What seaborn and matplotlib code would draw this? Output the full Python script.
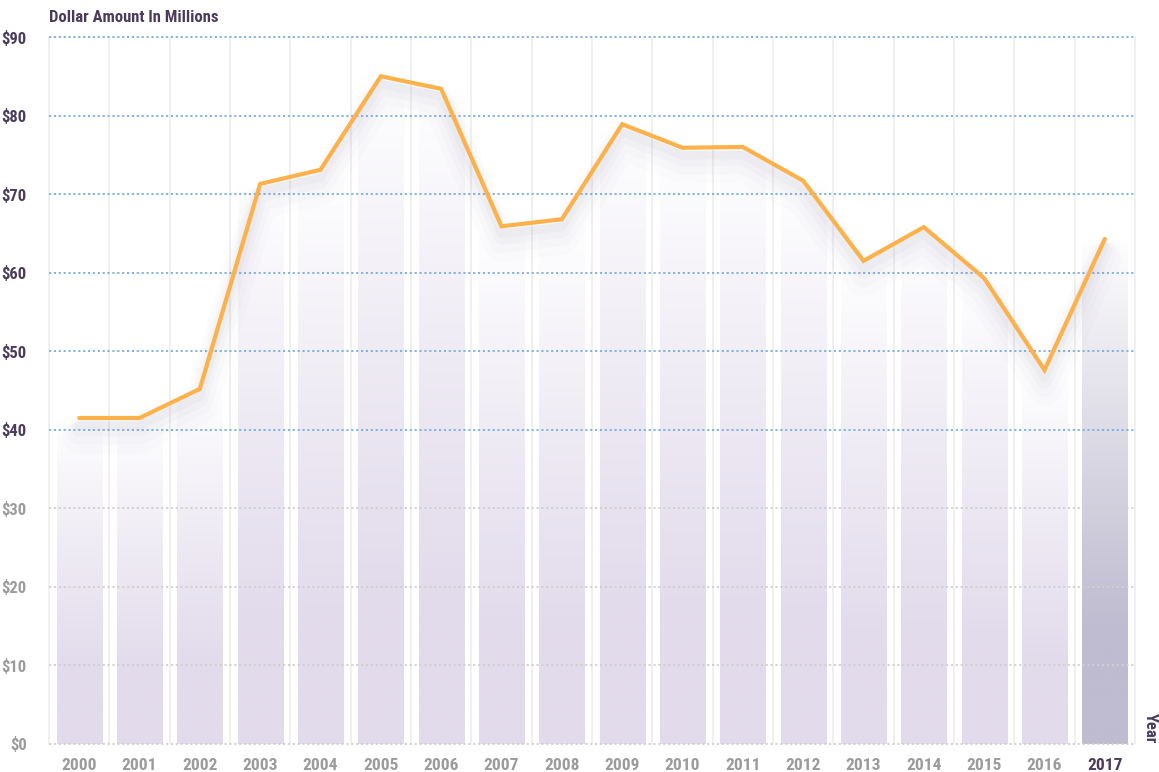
import numpy as np
import pandas as pd
import matplotlib
matplotlib.use("Agg")
import matplotlib.pyplot as plt
import seaborn as sns
from matplotlib import font_manager

years = ["2000", "2001", "2002", "2003", "2004", "2005", "2006", "2007", "2008",
         "2009", "2010", "2011", "2012", "2013", "2014", "2015", "2016", "2017"]
amounts = [41.5, 41.5, 45.2, 71.3, 73.1, 85.0, 83.4, 65.9, 66.8,
           78.9, 75.9, 76.0, 71.7, 61.5, 65.8, 59.3, 47.6, 64.3]
ytick_vals = [0, 10, 20, 30, 40, 50, 60, 70, 80, 90]
ytick_labels = ["$0", "$10", "$20", "$30", "$40", "$50", "$60", "$70", "$80", "$90"]
title_text = "Dollar Amount In Millions"
xlabel_text = "Year"

sns.set_theme(style="white")
avail = {f.name for f in font_manager.fontManager.ttflist}
fam = [f for f in ["Liberation Sans Narrow", "Roboto Condensed", "Liberation Sans"] if f in avail] + ["DejaVu Sans"]
plt.rcParams["font.family"] = fam

PURPLE = "#4a3b5c"
GRAY = "#9b9b9b"
ORANGE = "#fdb14b"
BLUE = "#7aaee0"

fig = plt.figure(figsize=(11.59, 7.72), dpi=100)
ax = fig.add_axes([49 / 1159, 1 - 744 / 772, (1135 - 49) / 1159, (744 - 37) / 772])

df = pd.DataFrame({"year": years, "amount": amounts})
sns.barplot(data=df, x="year", y="amount", ax=ax, width=0.75, color="white",
            edgecolor="none", zorder=2)
ax.set_xlim(-0.5, len(years) - 0.5)
ax.set_ylim(0, 90)

# gradient fill for each bar
n = 256
t = np.linspace(0, 1, n)[:, None]  # 0 bottom -> 1 top
for i, p in enumerate(ax.patches):
    base = np.array(matplotlib.colors.to_rgb("#bfbbd0" if i == len(years) - 1 else "#e2dbec"))
    w = np.clip(1 - t, 0, 1) ** 0.9
    w = np.clip(w * 1.25, 0, 1)
    rgb = base[None, :] * w + np.ones(3)[None, :] * (1 - w)
    img = np.repeat(rgb[:, None, :], 2, axis=1)
    x0, y0 = p.get_x(), p.get_y()
    wd, ht = p.get_width(), p.get_height()
    im = ax.imshow(img, extent=[x0, x0 + wd, y0, y0 + ht], origin="lower",
                   aspect="auto", zorder=2.5, interpolation="bilinear")
    im.set_clip_path(p)
ax.set_xlim(-0.5, len(years) - 0.5)
ax.set_ylim(0, 90)

# vertical separators
for k in range(len(years) + 1):
    ax.axvline(k - 0.5, color="#ececec", lw=1.1, zorder=1, clip_on=False)

# horizontal dotted grid
for v in ytick_vals:
    col = BLUE if v >= 40 else "#cfcfcf"
    ax.axhline(v, color=col, lw=1.3, ls=(0, (1.2, 1.5)), zorder=3, clip_on=False)

# shadow under line
x_idx = np.arange(len(years))
for k, (lw, a, off) in enumerate([(24, 0.02, 2.4), (17, 0.028, 1.9), (11, 0.04, 1.4), (6, 0.05, 1.0)]):
    ax.plot(x_idx, np.array(amounts) - off, color="#8a7fa0", lw=lw, alpha=a,
            solid_capstyle="round", solid_joinstyle="round", zorder=3.5)

sns.pointplot(data=df, x="year", y="amount", ax=ax, color=ORANGE, markers="none",
              linewidth=3, errorbar=None, zorder=5)
for ln in ax.lines[-1:]:
    ln.set_solid_joinstyle("miter")
ax.set_xlim(-0.5, len(years) - 0.5)
ax.set_ylim(0, 90)

for s in ax.spines.values():
    s.set_visible(False)
ax.set_xlabel("")
ax.set_ylabel("")
ax.set_yticks(ytick_vals)
ax.set_yticklabels(ytick_labels)
ax.tick_params(axis="y", length=0, pad=16, labelsize=12)
ax.tick_params(axis="x", length=0, pad=10, labelsize=12.5)
for lab, v in zip(ax.get_yticklabels(), ytick_vals):
    lab.set_fontweight("bold")
    lab.set_color(PURPLE if v >= 40 else GRAY)
xt = ax.get_xticklabels()
for i, lab in enumerate(xt):
    lab.set_fontweight("bold")
    lab.set_color(PURPLE if i == len(years) - 1 else GRAY)

fig.text(49 / 1159, 1 - 17 / 772, title_text, fontsize=12, fontweight="bold",
         color=PURPLE, ha="left", va="center")
fig.text(1150 / 1159, 1 - 728 / 772, xlabel_text, fontsize=12, fontweight="bold",
         color=PURPLE, ha="center", va="center", rotation=270)

fig.savefig("out.png", dpi=100)
